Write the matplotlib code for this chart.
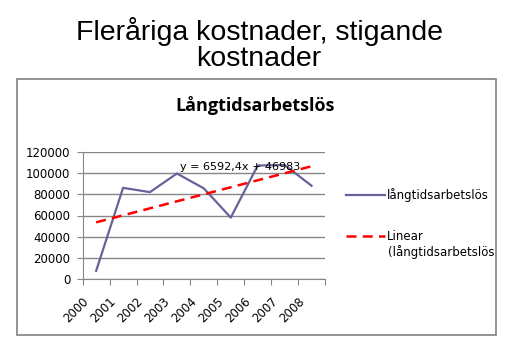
import matplotlib
matplotlib.use("Agg")
import matplotlib.pyplot as plt
from matplotlib.patches import Rectangle
import numpy as np

years = ["2000", "2001", "2002", "2003", "2004", "2005", "2006", "2007", "2008"]
values = [8000, 86000, 82000, 99500, 85500, 58000, 107000, 107500, 88000]
slope, intercept = 6592.4, 46983
yticks = [0, 20000, 40000, 60000, 80000, 100000, 120000]

W, H = 518, 359
fig = plt.figure(figsize=(W / 100, H / 100), dpi=100)

# chart frame
fig.patches.append(Rectangle((16.5 / W, 1 - 335 / H), (496.3 - 16.5) / W, (335 - 79.3) / H,
                             transform=fig.transFigure, fill=False, ec="#808080", lw=1.2))

fig.text(0.5, 1 - 44 / H, "Fleråriga kostnader, stigande\nkostnader", ha="center", va="center",
         family="Liberation Sans", fontsize=20.5, linespacing=1.0)
fig.text(255 / W, 1 - 106 / H, "Långtidsarbetslös", ha="center", va="center",
         family="Open Sans", fontweight="bold", fontsize=13)

ax = fig.add_axes([82.7 / W, 1 - 279.3 / H, (325 - 82.7) / W, (279.3 - 151.7) / H])
x = np.arange(len(years))
line, = ax.plot(x, values, color="#66639A", lw=1.6, label="långtidsarbetslös")
trend = [slope * (i + 1) + intercept for i in x]
tline, = ax.plot(x, trend, color="#FF0000", lw=1.8, ls=(0, (4, 2.5)), label="Linear")
ax.text(180, H - 166.7, "y = 6592,4x + 46983", transform=None, fontsize=8, va="center")

ax.set_xlim(-0.5, len(years) - 0.5)
ax.set_ylim(0, 120000)
ax.set_yticks(yticks)
ax.set_yticklabels([str(v) for v in yticks], fontsize=8.5)
ax.set_xticks(np.arange(len(years) + 1) - 0.5, minor=False)
ax.set_xticklabels([])
# year labels sit a little left of the category centre, as in Excel
ax.set_xticks(x - 0.17, minor=True)
ax.set_xticklabels(years, minor=True, rotation=45, ha="right", va="top", fontsize=8.5)
ax.tick_params(axis="x", which="minor", length=0, pad=11.5)
ax.tick_params(axis="x", which="major", length=4, color="#868686")
ax.tick_params(axis="y", length=4, color="#868686", pad=5)
ax.grid(axis="y", color="#868686", lw=1)
ax.set_axisbelow(True)
for s in ["top", "right"]:
    ax.spines[s].set_visible(False)
for s in ["left", "bottom"]:
    ax.spines[s].set_color("#868686")

fig.legend(handles=[line, tline], loc="upper left", bbox_to_anchor=(341 / W, 1 - 183 / H),
           frameon=False, fontsize=8.5, handlelength=3.3, handletextpad=0.2, labelspacing=2.4,
           borderaxespad=0)
fig.text(388 / W, 1 - 252 / H, "(långtidsarbetslös", fontsize=8.5, va="center")

fig.savefig("out.png", dpi=100)
